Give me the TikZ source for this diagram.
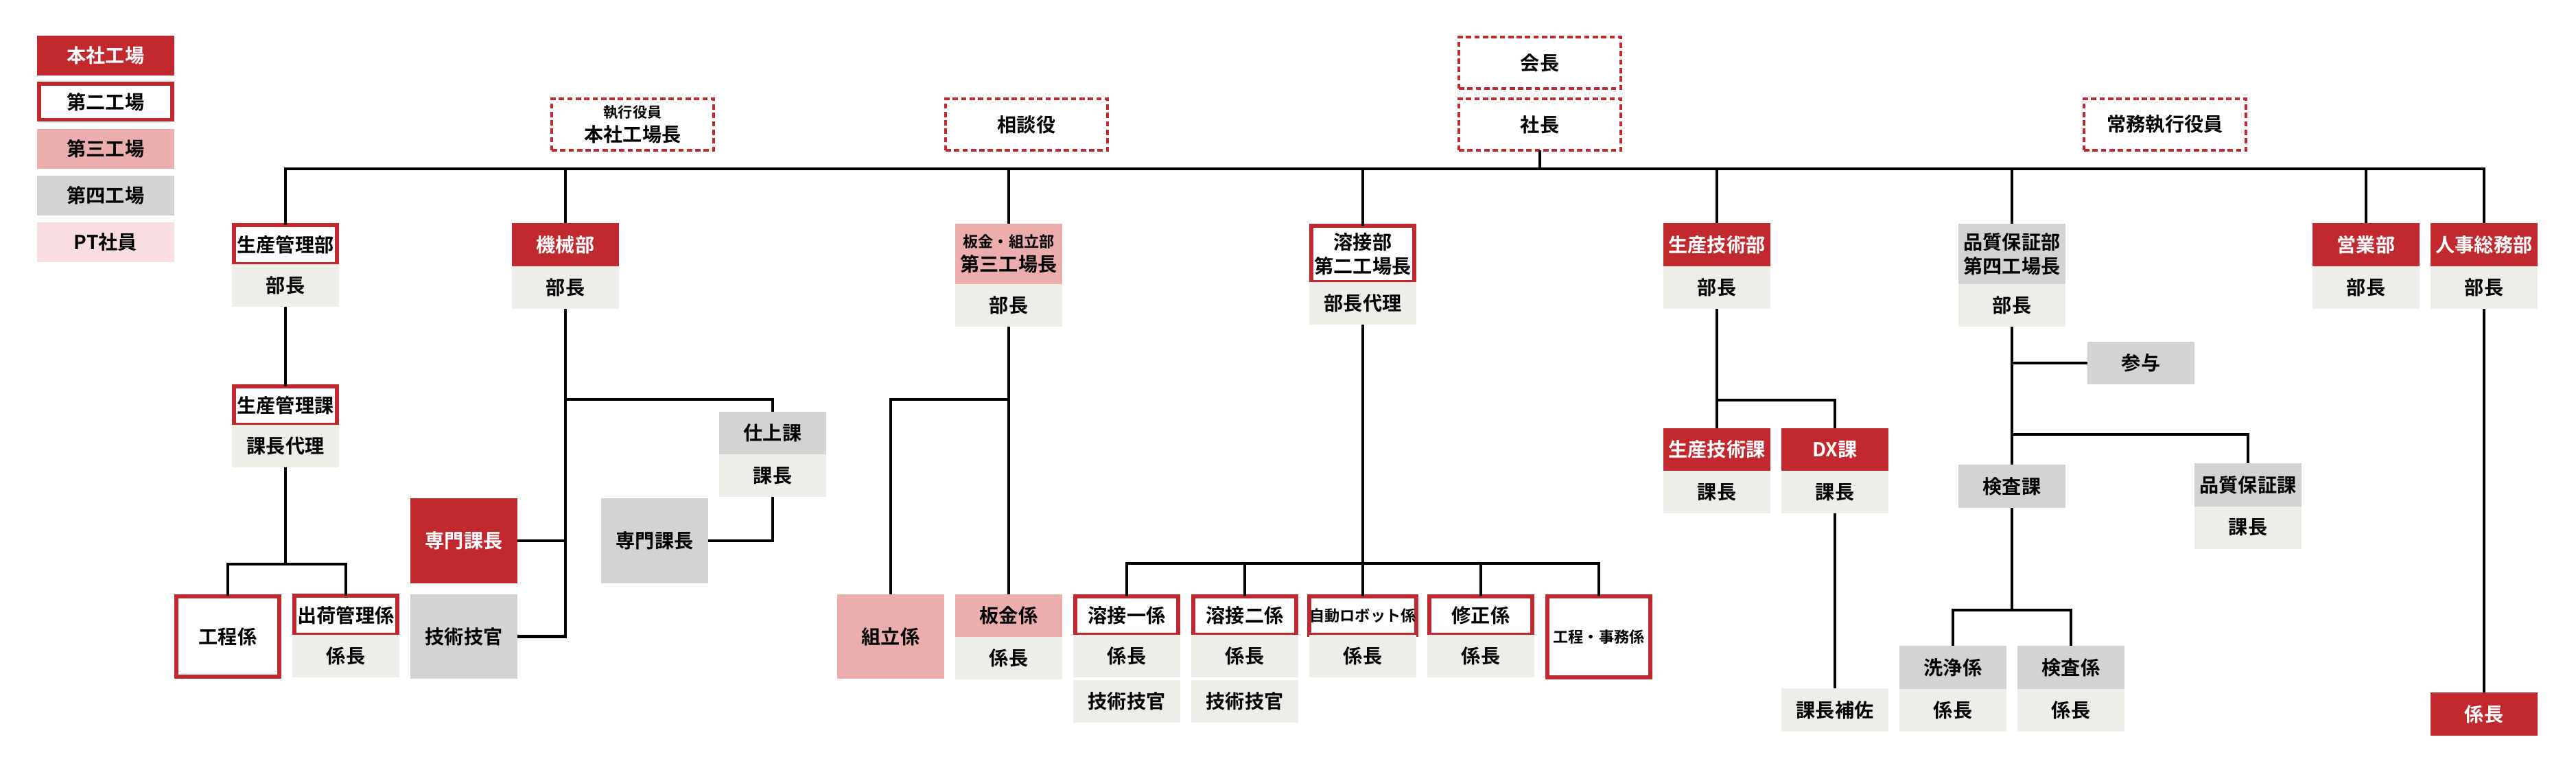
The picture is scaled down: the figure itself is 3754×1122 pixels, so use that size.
\documentclass[tikz,border=0pt]{standalone}
\usepackage{fontspec}
\setmainfont{Noto Sans CJK JP}[UprightFont = * Bold]
\usepackage{tikz}
\usetikzlibrary{
	calc,
	positioning
}

\definecolor{hqred}{HTML}{C1292E}
\definecolor{thirdpink}{HTML}{EBADAE}
\definecolor{fourthgray}{HTML}{D3D3D3}
\definecolor{postgray}{HTML}{EEEDE8}
\definecolor{ptpink}{HTML}{F8DEE0}

\begin{document}
\begin{tikzpicture} [
		x = 0.01cm,
		y = -0.01cm,
		node distance = 0pt,
		box/.style = {
			rectangle,
			inner sep = 0pt,
			outer sep = 0pt,
			minimum width = 1.56cm,
			minimum height = 0.62cm,
			align = center,
			font = \fontsize{8}{10}\selectfont
		},
		small/.style = {
			font = \fontsize{6.3}{8.5}\selectfont
		},
		hq/.style = {
			box,
			fill = hqred,
			text = white
		},
		second/.style = {
			box,
			fill = white,
			draw = hqred,
			line width = 1.7pt,
			minimum width = 1.50cm,
			minimum height = 0.56cm
		},
		third/.style = {
			box,
			fill = thirdpink
		},
		fourth/.style = {
			box,
			fill = fourthgray
		},
		post/.style = {
			box,
			fill = postgray
		},
		pt/.style = {
			box,
			fill = ptpink
		},
		exec/.style = {
			box,
			draw = hqred,
			line width = 1pt,
			dash pattern = on 2.2pt off 1.3pt,
			minimum width = 2.36cm,
			minimum height = 0.75cm
		},
		tall/.style = {
			minimum height = 0.88cm
		},
		edge/.style = {
			line width = 1.3pt
		}
	]

	\useasboundingbox (0,0) rectangle (3754,1122);

	% legend
	\node[hq, minimum width = 2cm, minimum height = 0.58cm] (leg-hq) at (154,81) {本社工場};
	\node[second, minimum width = 1.94cm, minimum height = 0.52cm] (leg-second) at (154,148.5) {第二工場};
	\node[third, minimum width = 2cm, minimum height = 0.58cm] (leg-third) at (154,217) {第三工場};
	\node[fourth, minimum width = 2cm, minimum height = 0.58cm] (leg-fourth) at (154,285) {第四工場};
	\node[pt, minimum width = 2cm, minimum height = 0.58cm] (leg-pt) at (154,353) {PT社員};

	% top
	\node[exec] (chairman) at (2244,91.5) {会長};
	\node[exec] (president) at (2244,181.5) {社長};
	\node[exec] (advisor) at (1496,181.5) {相談役};
	\node[exec] (officer) at (922,181.5) {{\fontsize{6}{8}\selectfont 執行役員}\\本社工場長};
	\node[exec] (managing) at (3155,181.5) {常務執行役員};

	% departments
	\node[second] (prod-ctrl) at (416,356.5) {生産管理部};
	\node[post, below = of prod-ctrl] (prod-ctrl-head) {部長};
	\node[hq] (machine) at (824,356.5) {機械部};
	\node[post, below = of machine] (machine-head) {部長};
	\node[third, tall] (sheet) at (1470,370) {{\fontsize{6.3}{8}\selectfont 板金・組立部}\\第三工場長};
	\node[post, below = of sheet] (sheet-head) {部長};
	\node[second, minimum height = 0.82cm] (weld) at (1986,370) {溶接部\\第二工場長};
	\node[post, below = of weld] (weld-head) {部長代理};
	\node[hq] (prod-eng) at (2502,356.5) {生産技術部};
	\node[post, below = of prod-eng] (prod-eng-head) {部長};
	\node[fourth, tall] (qa) at (2932,370) {品質保証部\\第四工場長};
	\node[post, below = of qa] (qa-head) {部長};
	\node[hq] (sales) at (3448,356.5) {営業部};
	\node[post, below = of sales] (sales-head) {部長};
	\node[hq] (hr) at (3620,356.5) {人事総務部};
	\node[post, below = of hr] (hr-head) {部長};

	% 生産管理
	\node[second] (pc-sec) at (416,591) {生産管理課};
	\node[post, below = of pc-sec] (pc-sec-head) {課長代理};
	\node[second, minimum height = 1.17cm] (process) at (332,927.5) {工程係};
	\node[second] (ship) at (504,896.5) {出荷管理係};
	\node[post, below = of ship] (ship-head) {係長};

	% 機械
	\node[hq, minimum height = 1.24cm] (spec-a) at (676,788) {専門課長};
	\node[fourth, minimum height = 1.23cm] (tech-a) at (676,927.5) {技術技官};
	\node[fourth] (finish) at (1126,631) {仕上課};
	\node[post, below = of finish] (finish-head) {課長};
	\node[fourth, minimum height = 1.24cm] (spec-b) at (954,788) {専門課長};

	% 板金・組立
	\node[third, minimum height = 1.23cm] (assembly) at (1298,927.5) {組立係};
	\node[third] (sheet-grp) at (1470,897) {板金係};
	\node[post, below = of sheet-grp] (sheet-grp-head) {係長};

	% 溶接
	\node[second] (weld-1) at (1642,897) {溶接一係};
	\node[post, below = of weld-1] (weld-1-head) {係長};
	\node[post, below = 0.04cm of weld-1-head] (weld-1-tech) {技術技官};
	\node[second] (weld-2) at (1814,897) {溶接二係};
	\node[post, below = of weld-2] (weld-2-head) {係長};
	\node[post, below = 0.04cm of weld-2-head] (weld-2-tech) {技術技官};
	\node[second, small] (robot) at (1986,897) {自動ロボット係};
	\node[post, below = of robot] (robot-head) {係長};
	\node[second] (repair) at (2158,897) {修正係};
	\node[post, below = of repair] (repair-head) {係長};
	\node[second, small, minimum height = 1.18cm] (office) at (2330,928) {工程・事務係};

	% 生産技術
	\node[hq] (pe-sec) at (2502,655) {生産技術課};
	\node[post, below = of pe-sec] (pe-sec-head) {課長};
	\node[hq] (dx) at (2674,655) {DX課};
	\node[post, below = of dx] (dx-head) {課長};
	\node[post, minimum height = 0.63cm] (dx-assist) at (2674,1034.5) {課長補佐};

	% 品質保証
	\node[fourth] (adviser) at (3120,529) {参与};
	\node[fourth] (inspect) at (2932,708.5) {検査課};
	\node[fourth] (qa-sec) at (3276,706.5) {品質保証課};
	\node[post, below = of qa-sec] (qa-sec-head) {課長};
	\node[fourth] (wash) at (2846,972.5) {洗浄係};
	\node[post, below = of wash] (wash-head) {係長};
	\node[fourth] (insp-grp) at (3018,972.5) {検査係};
	\node[post, below = of insp-grp] (insp-grp-head) {係長};

	% 人事総務
	\node[hq] (hr-chief) at (3620,1040.5) {係長};

	% junctions
	\coordinate (bus) at (2244,246);
	\coordinate (pc-fork) at (416,822);
	\coordinate (mach-fork) at (824,582);
	\coordinate (sheet-fork) at (1470,582);
	\coordinate (weld-fork) at (1986,821);
	\coordinate (pe-fork) at (2502,583);
	\coordinate (qa-fork) at (2932,633);
	\coordinate (insp-fork) at (2932,889);

	% lines
	\draw[edge] (president) -- (bus);
	\draw[edge] (prod-ctrl.north) |- (bus) -| (hr.north);
	\foreach \dept in {machine, sheet, weld, prod-eng, qa, sales}
		\draw[edge] (\dept.north) -- (\dept.north |- bus);

	\draw[edge] (prod-ctrl-head) -- (pc-sec);
	\draw[edge] (pc-sec-head) -- (pc-fork);
	\draw[edge] (process.north) |- (pc-fork) -| (ship.north);

	\draw[edge] (machine-head.south) |- (tech-a.east);
	\draw[edge] (spec-a.east) -- (spec-a.east -| machine-head.south);
	\draw[edge] (mach-fork) -| (finish.north);
	\draw[edge] (finish-head.south) |- (spec-b.east);

	\draw[edge] (sheet-head) -- (sheet-grp);
	\draw[edge] (sheet-fork) -| (assembly.north);

	\draw[edge] (weld-head) -- (robot);
	\draw[edge] (weld-1.north) |- (weld-fork) -| (office.north);
	\foreach \grp in {weld-2, repair}
		\draw[edge] (\grp.north) -- (\grp.north |- weld-fork);

	\draw[edge] (prod-eng-head) -- (pe-sec);
	\draw[edge] (pe-fork) -| (dx.north);
	\draw[edge] (dx-head) -- (dx-assist);

	\draw[edge] (qa-head) -- (inspect);
	\draw[edge] (adviser.west) -- (adviser.west -| qa-head.south);
	\draw[edge] (qa-fork) -| (qa-sec.north);
	\draw[edge] (inspect) -- (insp-fork);
	\draw[edge] (wash.north) |- (insp-fork) -| (insp-grp.north);

	\draw[edge] (hr-head) -- (hr-chief);
\end{tikzpicture}
\end{document}
